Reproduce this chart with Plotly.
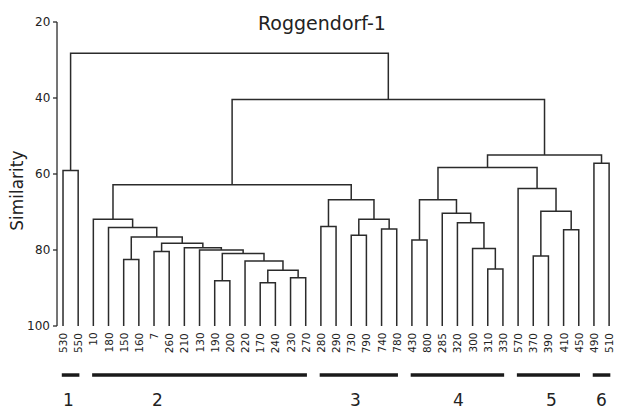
import plotly.graph_objects as go

# ---- data ----
leaves = ["530", "550", "10", "180", "150", "160", "7", "260", "210", "130", "190",
          "200", "220", "170", "240", "230", "270", "280", "290", "730", "790", "740",
          "780", "430", "800", "285", "320", "300", "310", "330", "570", "370", "390",
          "410", "450", "490", "510"]

# merges: node ids 0..36 are leaves, merge k creates node 37+k
merge_left = [13, 10, 15, 37, 28, 12, 4, 31, 38, 6, 9, 27, 8, 46, 23, 43, 19, 33, 21,
              3, 17, 26, 2, 53, 25, 44, 57, 51, 30, 59, 0, 64, 35, 68, 66, 67]
merge_right = [14, 11, 16, 39, 29, 40, 5, 32, 42, 7, 45, 41, 47, 49, 24, 50, 20, 34, 22,
               52, 18, 48, 56, 55, 58, 54, 60, 61, 62, 63, 1, 65, 36, 69, 70, 71]
merge_height = [88.6, 88.1, 87.3, 85.3, 85.0, 82.9, 82.5, 81.6, 80.9, 80.4, 80.0, 79.6,
                79.4, 78.2, 77.4, 76.6, 76.1, 74.7, 74.5, 74.1, 73.8, 72.8, 71.9, 71.9,
                70.3, 69.8, 66.8, 66.8, 63.8, 62.8, 59.1, 58.3, 57.2, 55.0, 40.4, 28.2]

group_names = ["1", "2", "3", "4", "5", "6"]
group_first = [0, 2, 17, 23, 30, 35]
group_last = [1, 16, 22, 29, 34, 36]
group_label_pos = [0.33, 6.26, 19.25, 26.1, 32.23, 35.53]

y_ticks = [20, 40, 60, 80, 100]
title = "Roggendorf-1"
y_title = "Similarity"

# ---- build dendrogram coordinates ----
n = len(leaves)
pos_x = {i: float(i) for i in range(n)}
pos_y = {i: 100.0 for i in range(n)}
xs, ys = [], []
for k, (a, b, h) in enumerate(zip(merge_left, merge_right, merge_height)):
    xa, ya = pos_x[a], pos_y[a]
    xb, yb = pos_x[b], pos_y[b]
    xs += [xa, xa, xb, xb, None]
    ys += [ya, h, h, yb, None]
    pos_x[n + k] = (xa + xb) / 2
    pos_y[n + k] = h

line_col = "#2b2b2b"
fig = go.Figure()
fig.add_trace(go.Scatter(x=xs, y=ys, mode="lines",
                         line=dict(color=line_col, width=1.5),
                         hoverinfo="skip", showlegend=False))

# y axis (drawn manually)
ax_x = -0.3955
tick_x0 = -0.659
axs, ays = [ax_x, ax_x, None], [y_ticks[0], y_ticks[-1], None]
for t in y_ticks:
    axs += [tick_x0, ax_x, None]
    ays += [t, t, None]
fig.add_trace(go.Scatter(x=axs, y=ays, mode="lines",
                         line=dict(color=line_col, width=1.3),
                         hoverinfo="skip", showlegend=False))

# group bars
bx, by = [], []
for f, l in zip(group_first, group_last):
    bx += [f - 0.08, l + 0.08, None]
    by += [112.9, 112.9, None]
fig.add_trace(go.Scatter(x=bx, y=by, mode="lines",
                         line=dict(color="#1a1a1a", width=3.5),
                         hoverinfo="skip", showlegend=False))

ann = []
font_main = "DejaVu Sans, Liberation Sans, Arial, sans-serif"
for t in y_ticks:
    ann.append(dict(x=-0.72, y=t, xref="x", yref="y", text=str(t), showarrow=False,
                    xanchor="right", yanchor="middle",
                    font=dict(family=font_main, size=12, color="#222")))
for i, lab in enumerate(leaves):
    ann.append(dict(x=i, y=101.3, xref="x", yref="y", text=lab, showarrow=False,
                    textangle=-90, xanchor="center", yanchor="top",
                    font=dict(family=font_main, size=10.5, color="#222")))
ann.append(dict(x=36.98, y=101.3, xref="x", yref="y", text="m", showarrow=False,
                textangle=-90, xanchor="center", yanchor="top",
                font=dict(family=font_main, size=10.5, color="#222")))
for name, p in zip(group_names, group_label_pos):
    ann.append(dict(x=p, y=119.4, xref="x", yref="y", text=name, showarrow=False,
                    xanchor="center", yanchor="middle",
                    font=dict(family=font_main, size=17, color="#222")))
ann.append(dict(x=17.04, y=20.3, xref="x", yref="y", text=title, showarrow=False,
                xanchor="center", yanchor="middle",
                font=dict(family=font_main, size=19, color="#222")))
ann.append(dict(x=-3.05, y=64.5, xref="x", yref="y", text=y_title, showarrow=False,
                textangle=-90, xanchor="center", yanchor="middle",
                font=dict(family=font_main, size=17, color="#222")))

# page body has an 8px margin, so the figure covers window pixels 8..629 x 8..412
fig.update_layout(
    width=621, height=404,
    margin=dict(l=0, r=0, t=0, b=0),
    paper_bgcolor="white", plot_bgcolor="white",
    xaxis=dict(range=[-3.626, 37.311], visible=False, fixedrange=True),
    yaxis=dict(range=[122.63, 16.316], visible=False, fixedrange=True),
    annotations=ann,
)

fig.write_html("out.html")
